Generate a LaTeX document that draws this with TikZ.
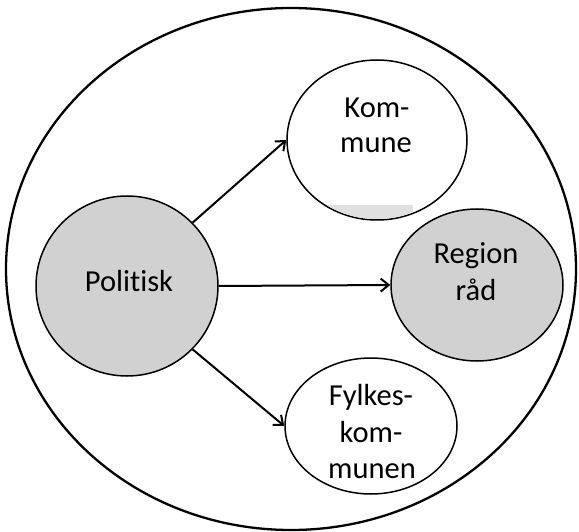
\documentclass[tikz,border=0pt]{standalone}
\usepackage{fontspec}
\setmainfont{Carlito}[Ligatures=NoCommon]
\usetikzlibrary{shapes.geometric,arrows.meta}
\begin{document}
\begin{tikzpicture}[x=1pt,y=-1pt,
  bubble/.style={ellipse, draw, line width=1.5pt, inner sep=0pt},
  shaded/.style={bubble, fill=black!18},
  plain/.style={bubble, fill=white},
  lbl/.style={anchor=base, inner sep=0pt, font=\fontsize{30.5}{36}\selectfont},
  link/.style={line width=2pt, -{Straight Barb[length=8pt,width=13pt,line width=2pt]}}]
\useasboundingbox (0,0) rectangle (579,532);

% enclosing ellipse
\node[ellipse, draw, line width=2.3pt, minimum width=570pt, minimum height=522pt, inner sep=0pt] (outer) at (291,269) {};

% member bubbles
\node[shaded, minimum width=182pt, minimum height=180pt] (p) at (127,286) {};
\node[plain,  minimum width=180pt, minimum height=160pt] (k) at (377,140) {};
\node[shaded, minimum width=172pt, minimum height=152pt] (r) at (477,285) {};
\node[plain,  minimum width=172pt, minimum height=136pt] (f) at (371,426) {};

% grey band along the lower edge of the Kommune bubble
\begin{scope}
  \clip (377,140) ellipse [x radius=89, y radius=79];
  \fill[black!12] (325,205) rectangle (413,222);
\end{scope}

% labels
\node[lbl] (pt) at (129,291) {Politisk};
\node[lbl] (kt1) at (377,118) {Kom-};
\node[lbl] (kt2) at (376,153) {mune};
\node[lbl] (rt1) at (476,264) {Region};
\node[lbl] (rt2) at (476,300) {råd};
\node[lbl] (ft1) at (371,405) {Fylkes-};
\node[lbl] (ft2) at (371,442) {kom-};
\node[lbl] (ft3) at (372,478) {munen};

% connectors
\draw[link] (p.44) -- (k.west);
\draw[link] (p.east) -- (r.west);
\draw[link] (p.-44) -- (f.west);
\end{tikzpicture}
\end{document}
